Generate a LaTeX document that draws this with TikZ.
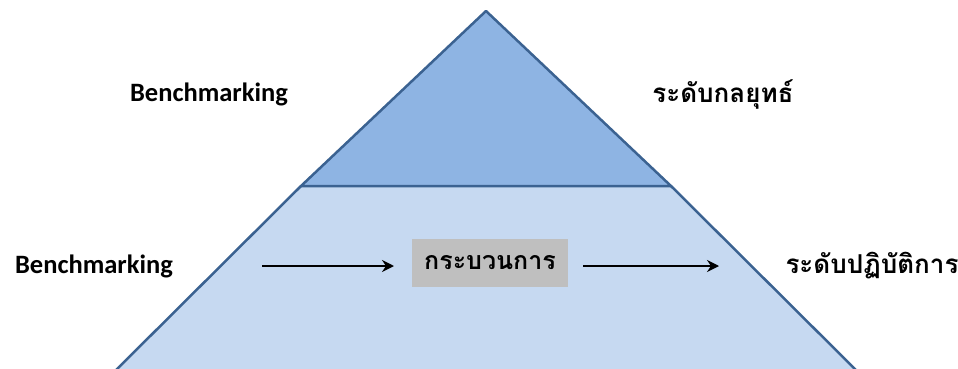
\documentclass[tikz,border=0pt]{standalone}
\usepackage{fontspec}
\setmainfont{Carlito}
\newfontfamily\thaifont[Script=Thai]{Loma}
\usetikzlibrary{arrows.meta, positioning}

\definecolor{topblue}{HTML}{8EB4E3}
\definecolor{lowblue}{HTML}{C6D9F1}
\definecolor{edgeblue}{HTML}{3B6291}
\definecolor{boxgray}{HTML}{BFBFBF}

\begin{document}
\begin{tikzpicture}[
    x=1pt, y=-1pt,
    level/.style={draw=edgeblue, line width=2.5pt, line join=round},
    label/.style={font=\fontsize{26.5}{30}\selectfont\bfseries, inner sep=0pt},
    thlabel/.style={font=\fontsize{26}{30}\selectfont\thaifont\bfseries, inner sep=0pt},
    process/.style={fill=boxgray, minimum width=156pt, minimum height=48pt,
        font=\fontsize{25}{29}\selectfont\thaifont\bfseries},
    arrow/.style={-{Stealth[length=12pt, width=12pt, inset=4pt]}, line width=2pt}
]
\useasboundingbox (0,0) rectangle (958,369);

% pyramid
\begin{scope}
\clip (0,0) rectangle (958,369);
\fill[lowblue] (301,186) -- (671,186) -- (866,380) -- (106,380) -- cycle;
\draw[level] (301,186) -- (106,380);
\draw[level] (671,186) -- (866,380);
\end{scope}
\filldraw[level, fill=topblue] (486,11) -- (671,186) -- (301,186) -- cycle;

% labels
\node[label] (benchtop) at (209,94) {Benchmarking};
\node[thlabel] (strategic) at (723,94) {ระดับกลยุทธ์};
\node[label] (benchlow) at (94,266) {Benchmarking};
\node[process] (process) at (490,263) {กระบวนการ};
\node[thlabel] (operational) at (872,266) {ระดับปฏิบัติการ};

\coordinate (instart) at (262,266);
\coordinate (inend) at (394,266);
\coordinate (outstart) at (583,266);
\coordinate (outend) at (719,266);

\draw[arrow] (instart) -- (inend);
\draw[arrow] (outstart) -- (outend);
\end{tikzpicture}
\end{document}
